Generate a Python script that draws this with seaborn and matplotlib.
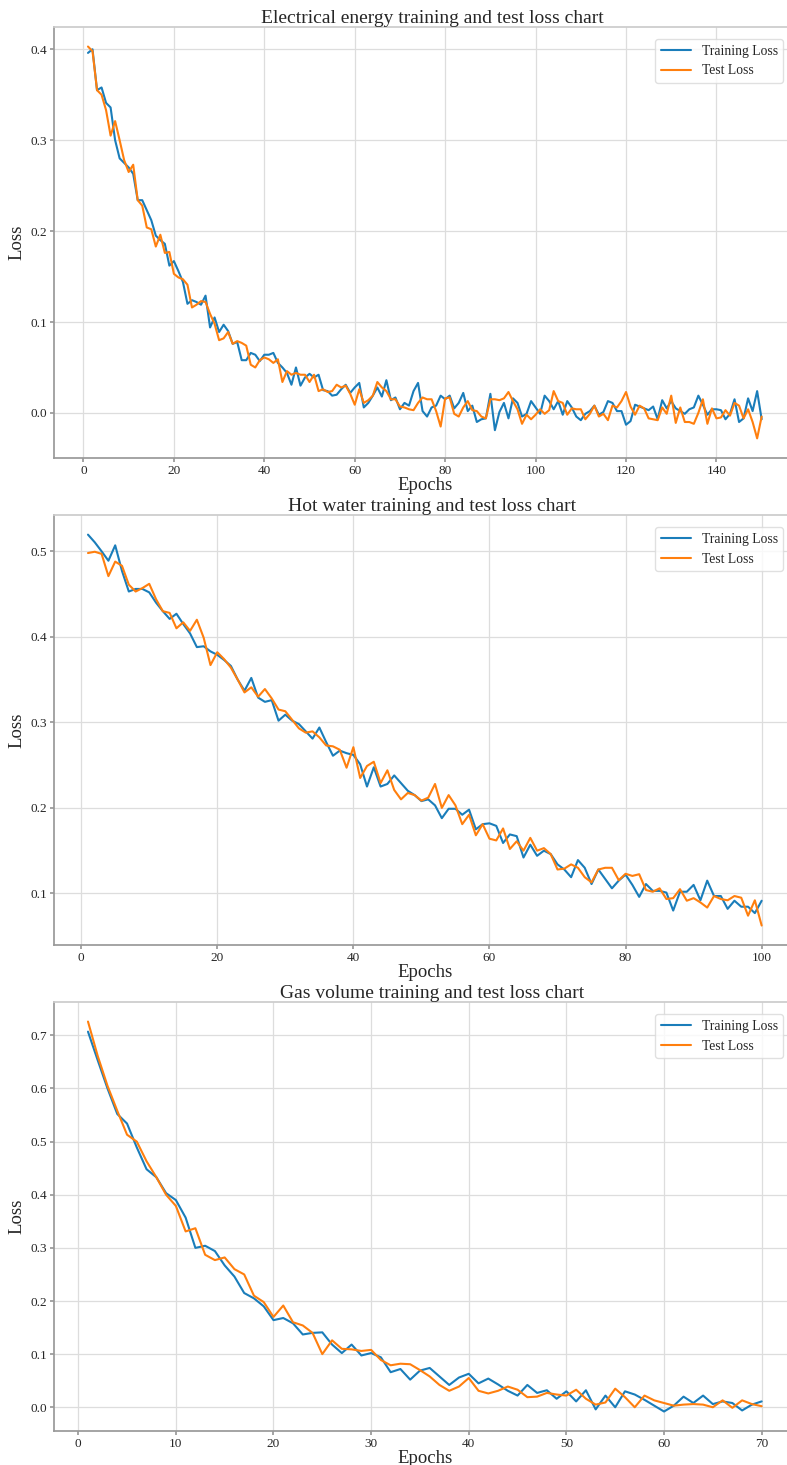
import numpy as np
import pandas as pd
import matplotlib
matplotlib.use('Agg')
import matplotlib.pyplot as plt
import seaborn as sns

# --- datos ---
elec_train = [0.396, 0.400, 0.355, 0.358, 0.341, 0.336, 0.300, 0.280, 0.275, 0.270,
              0.263, 0.234, 0.234, 0.223, 0.212, 0.195, 0.190, 0.186, 0.162, 0.167,
              0.156, 0.144, 0.120, 0.124, 0.122, 0.119, 0.129, 0.094, 0.105, 0.089,
              0.097, 0.090, 0.076, 0.078, 0.058, 0.058, 0.066, 0.064, 0.057, 0.064,
              0.064, 0.066, 0.055, 0.050, 0.044, 0.031, 0.050, 0.030, 0.039, 0.043,
              0.039, 0.042, 0.025, 0.024, 0.019, 0.020, 0.026, 0.031, 0.022, 0.028,
              0.033, 0.006, 0.011, 0.019, 0.028, 0.018, 0.036, 0.014, 0.017, 0.004,
              0.011, 0.008, 0.024, 0.033, 0.002, -0.004, 0.006, 0.008, 0.019, 0.015,
              0.019, 0.005, 0.011, 0.022, 0.002, 0.008, -0.010, -0.007, -0.006, 0.021,
              -0.019, 0.001, 0.011, -0.006, 0.016, 0.011, -0.004, -0.001, 0.013, 0.006,
              -0.001, 0.019, 0.013, 0.004, 0.013, -0.002, 0.013, 0.006, -0.004, -0.008,
              -0.001, 0.002, 0.008, -0.002, 0.001, 0.013, 0.011, 0.002, 0.002, -0.013,
              -0.009, 0.009, 0.007, 0.005, 0.003, 0.007, -0.007, 0.014, 0.005, 0.013,
              0.005, 0.002, -0.001, 0.004, 0.006, 0.019, 0.009, -0.002, 0.004, 0.004,
              0.003, -0.007, -0.001, 0.015, -0.010, -0.006, 0.016, 0.002, 0.024, -0.007]
elec_test = [0.403, 0.398, 0.355, 0.350, 0.333, 0.305, 0.321, 0.300, 0.278, 0.265,
             0.273, 0.234, 0.228, 0.204, 0.202, 0.183, 0.196, 0.176, 0.177, 0.153,
             0.149, 0.147, 0.141, 0.116, 0.119, 0.123, 0.122, 0.109, 0.098, 0.080,
             0.082, 0.089, 0.076, 0.079, 0.077, 0.074, 0.053, 0.050, 0.058, 0.061,
             0.059, 0.055, 0.059, 0.034, 0.046, 0.042, 0.044, 0.042, 0.042, 0.034,
             0.042, 0.024, 0.026, 0.023, 0.024, 0.031, 0.028, 0.030, 0.021, 0.009,
             0.026, 0.011, 0.014, 0.019, 0.034, 0.028, 0.024, 0.015, 0.015, 0.007,
             0.006, 0.004, 0.003, 0.011, 0.017, 0.015, 0.015, 0.002, -0.015, 0.016,
             0.017, -0.001, -0.004, 0.006, 0.013, 0.003, 0.002, -0.004, -0.006, 0.015,
             0.015, 0.014, 0.016, 0.023, 0.013, 0.004, -0.012, -0.002, -0.007, -0.002,
             0.004, -0.001, 0.003, 0.024, 0.013, 0.011, -0.002, 0.005, 0.004, 0.004,
             -0.007, -0.001, 0.008, -0.004, -0.001, -0.008, 0.008, 0.006, 0.013, 0.023,
             0.007, -0.002, 0.008, 0.005, -0.006, -0.007, -0.008, 0.006, -0.001, 0.019,
             -0.011, 0.006, -0.010, -0.010, -0.012, 0.000, 0.015, -0.012, 0.005, -0.006,
             -0.005, 0.003, -0.003, 0.011, 0.008, -0.006, 0.004, -0.010, -0.028, -0.004]

water_train = [0.5195, 0.5105, 0.500, 0.489, 0.507, 0.477, 0.453, 0.456, 0.456, 0.452,
               0.440, 0.430, 0.421, 0.427, 0.415, 0.404, 0.388, 0.389, 0.383, 0.379,
               0.373, 0.366, 0.350, 0.337, 0.352, 0.329, 0.324, 0.326, 0.302, 0.309,
               0.302, 0.298, 0.2895, 0.281, 0.294, 0.277, 0.261, 0.267, 0.264, 0.262,
               0.251, 0.225, 0.2475, 0.225, 0.228, 0.238, 0.229, 0.220, 0.215, 0.208,
               0.210, 0.203, 0.188, 0.199, 0.199, 0.192, 0.198, 0.175, 0.181, 0.182,
               0.179, 0.159, 0.169, 0.167, 0.142, 0.157, 0.144, 0.150, 0.146, 0.134,
               0.128, 0.119, 0.139, 0.130, 0.111, 0.128, 0.117, 0.106, 0.115, 0.122,
               0.110, 0.096, 0.111, 0.103, 0.103, 0.101, 0.080, 0.102, 0.102, 0.110,
               0.092, 0.115, 0.097, 0.097, 0.082, 0.0915, 0.0845, 0.0845, 0.077, 0.0915]
water_test = [0.498, 0.4995, 0.497, 0.471, 0.488, 0.483, 0.461, 0.453, 0.457, 0.462,
              0.444, 0.430, 0.428, 0.410, 0.417, 0.407, 0.420, 0.399, 0.367, 0.382,
              0.374, 0.364, 0.350, 0.335, 0.341, 0.330, 0.339, 0.328, 0.315, 0.313,
              0.303, 0.293, 0.288, 0.2895, 0.2825, 0.273, 0.272, 0.268, 0.247, 0.271,
              0.235, 0.249, 0.254, 0.229, 0.244, 0.221, 0.210, 0.2175, 0.215, 0.2085,
              0.212, 0.228, 0.200, 0.215, 0.203, 0.181, 0.192, 0.168, 0.181, 0.164,
              0.162, 0.176, 0.152, 0.161, 0.150, 0.165, 0.150, 0.153, 0.146, 0.128,
              0.129, 0.134, 0.130, 0.119, 0.113, 0.128, 0.130, 0.130, 0.1155, 0.123,
              0.1205, 0.1225, 0.104, 0.102, 0.106, 0.0935, 0.0945, 0.105, 0.0915, 0.0945,
              0.0895, 0.0835, 0.097, 0.0935, 0.092, 0.097, 0.095, 0.074, 0.092, 0.0625]

gas_train = [0.707, 0.653, 0.600, 0.552, 0.534, 0.489, 0.448, 0.433, 0.403, 0.390,
             0.357, 0.300, 0.304, 0.294, 0.267, 0.246, 0.215, 0.205, 0.190, 0.164,
             0.168, 0.158, 0.137, 0.140, 0.141, 0.118, 0.102, 0.118, 0.0975, 0.102,
             0.094, 0.066, 0.072, 0.052, 0.069, 0.074, 0.058, 0.042, 0.056, 0.063,
             0.045, 0.054, 0.043, 0.031, 0.022, 0.042, 0.027, 0.032, 0.016, 0.030,
             0.011, 0.032, -0.004, 0.022, 0.000, 0.030, 0.024, 0.014, 0.003, -0.008,
             0.003, 0.020, 0.008, 0.022, 0.006, 0.011, 0.008, -0.006, 0.005, 0.011]
gas_test = [0.726, 0.661, 0.605, 0.558, 0.513, 0.500, 0.463, 0.433, 0.400, 0.379,
            0.331, 0.337, 0.287, 0.277, 0.282, 0.260, 0.250, 0.210, 0.198, 0.170,
            0.1915, 0.160, 0.154, 0.140, 0.100, 0.126, 0.110, 0.109, 0.106, 0.108,
            0.089, 0.079, 0.082, 0.081, 0.070, 0.058, 0.042, 0.031, 0.039, 0.055,
            0.031, 0.026, 0.031, 0.039, 0.033, 0.019, 0.020, 0.027, 0.024, 0.022,
            0.033, 0.016, 0.005, 0.009, 0.035, 0.019, 0.000, 0.022, 0.013, 0.008,
            0.003, 0.005, 0.006, 0.005, 0.000, 0.013, -0.001, 0.013, 0.006, 0.002]

titles = ['Electrical energy training and test loss chart',
          'Hot water training and test loss chart',
          'Gas volume training and test loss chart']

sns.set_theme(style='whitegrid')
plt.rcParams['font.family'] = ['Liberation Serif', 'DejaVu Serif']

azul = '#1a7dba'
naranja = '#ff7f0e'

fig = plt.figure(figsize=(7.87, 14.65), dpi=100)
# posiciones de los tres paneles (izq, abajo, ancho, alto); el borde derecho queda fuera de la imagen
posiciones = [[0.0690, 0.6874, 0.9416, 0.2942],
              [0.0690, 0.3549, 0.9416, 0.2935],
              [0.0690, 0.0232, 0.9416, 0.2928]]

series = [(elec_train, elec_test), (water_train, water_test), (gas_train, gas_test)]

for pos, (tr, te), titulo in zip(posiciones, series, titles):
    ax = fig.add_axes(pos)
    epochs = np.arange(1, len(tr) + 1)
    sns.lineplot(x=epochs, y=tr, ax=ax, color=azul, linewidth=1.5, label='Training Loss')
    sns.lineplot(x=epochs, y=te, ax=ax, color=naranja, linewidth=1.5, label='Test Loss')
    ax.set_title(titulo, fontsize=14, pad=3, x=0.51)
    ax.set_xlabel('Epochs', fontsize=13.5, labelpad=0)
    ax.set_ylabel('Loss', fontsize=13.5, labelpad=4)
    ax.tick_params(labelsize=9.5, length=3, pad=2, left=True, bottom=True, color='0.6')
    ax.grid(color='#dddddd', linewidth=0.9)
    for lado in ['left', 'bottom']:
        ax.spines[lado].set_color('0.6')
    for lado in ['top', 'right']:
        ax.spines[lado].set_color('0.8')
    ax.legend(loc='upper right', fontsize=9.8, frameon=True, edgecolor='0.85',
              borderaxespad=0.9, handlelength=2.2)

fig.savefig('out.png', dpi=100)
